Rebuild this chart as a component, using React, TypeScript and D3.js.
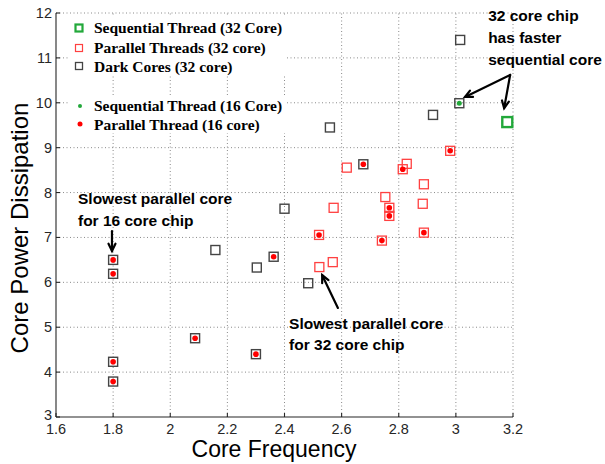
import React from "react";
import * as d3 from "d3";

// ---- data ----
const seq32: [number, number][] = [[3.18, 9.57]];
const par32: [number, number][] = [
  [2.521, 7.056], [2.741, 6.93], [2.767, 7.66], [2.767, 7.48], [2.814, 8.52],
  [2.888, 7.107], [2.98, 8.93], [2.618, 8.555], [2.828, 8.64], [2.888, 8.185],
  [2.753, 7.9], [2.884, 7.75], [2.572, 7.66], [2.522, 6.34], [2.569, 6.45],
];
const dark32: [number, number][] = [
  [1.8, 6.5], [1.8, 6.19], [1.8, 4.23], [1.8, 3.79], [2.087, 4.755], [2.3, 4.4],
  [2.362, 6.57], [2.676, 8.63], [3.012, 9.99], [3.015, 11.4], [2.92, 9.73],
  [2.559, 9.45], [2.4, 7.64], [2.158, 6.72], [2.303, 6.33], [2.483, 5.98],
];
const seq16: [number, number][] = [[3.012, 9.99]];
const par16: [number, number][] = [
  [1.8, 6.5], [1.8, 6.19], [1.8, 4.23], [1.8, 3.79], [2.087, 4.755], [2.3, 4.4],
  [2.362, 6.57], [2.521, 7.056], [2.676, 8.63], [2.741, 6.93], [2.767, 7.66],
  [2.767, 7.48], [2.814, 8.52], [2.888, 7.107], [2.98, 8.93],
];
const xTicks = [1.6, 1.8, 2, 2.2, 2.4, 2.6, 2.8, 3, 3.2];
const yTicks = [3, 4, 5, 6, 7, 8, 9, 10, 11, 12];
const legend32 = ["Sequential Thread (32 Core)", "Parallel Threads (32 core)", "Dark Cores (32 core)"];
const legend16 = ["Sequential Thread (16 Core)", "Parallel Thread (16 core)"];

const GREEN = "#22a83a";
const RED_SQ = "#ff4040";
const RED = "#ff0000";
const GRAY = "#444444";
const AXIS = "#262626";

export default function App() {
  const W = 605, H = 464;
  const left = 56, right = 513, top = 13, bottom = 417;
  const x = d3.scaleLinear().domain([1.6, 3.2]).range([left, right]);
  const y = d3.scaleLinear().domain([3, 12]).range([bottom, top]);
  const sq = 9;
  const tickFmt = d3.format("");

  const square = (d: [number, number], i: number, color: string, sw: number, s = sq) => (
    <rect key={i} x={x(d[0]) - s / 2} y={y(d[1]) - s / 2} width={s} height={s}
      fill="none" stroke={color} strokeWidth={sw} />
  );

  const arrow = (x1: number, y1: number, x2: number, y2: number, key: string) => {
    const px1 = x(x1), py1 = y(y1), px2 = x(x2), py2 = y(y2);
    const ang = Math.atan2(py2 - py1, px2 - px1);
    const L = 8, a = 0.45;
    const h1 = [px2 - L * Math.cos(ang - a), py2 - L * Math.sin(ang - a)];
    const h2 = [px2 - L * Math.cos(ang + a), py2 - L * Math.sin(ang + a)];
    return (
      <g key={key} stroke="#000" strokeWidth={2.2} fill="none" strokeLinecap="round">
        <line x1={px1} y1={py1} x2={px2} y2={py2} />
        <polyline points={`${h1[0]},${h1[1]} ${px2},${py2} ${h2[0]},${h2[1]}`} />
      </g>
    );
  };

  const annFont = { fontFamily: "'Liberation Sans', Arial, sans-serif", fontWeight: 700, fontSize: 15.5 } as const;

  return (
    <svg width={W} height={H} style={{ position: "absolute", left: 0, top: 0, background: "#fff" }}>
      <rect width={W} height={H} fill="#fff" />
      {/* grid */}
      <g stroke="#8a8a8a" strokeWidth={1} strokeDasharray="1,2.5">
        {xTicks.slice(1).map((t) => (
          <line key={"gx" + t} x1={x(t)} x2={x(t)} y1={bottom} y2={top} />
        ))}
        {yTicks.slice(1).map((t) => (
          <line key={"gy" + t} x1={left} x2={right} y1={y(t)} y2={y(t)} />
        ))}
      </g>
      {/* legends backgrounds */}
      <rect x={70} y={17} width={215} height={58} fill="#fff" />
      <rect x={70} y={96} width={215} height={37} fill="#fff" />
      {/* axes */}
      <g stroke={AXIS} strokeWidth={1.1}>
        <line x1={left} x2={right} y1={bottom} y2={bottom} />
        <line x1={left} x2={left} y1={bottom} y2={top} />
        {xTicks.map((t) => (
          <line key={"tx" + t} x1={x(t)} x2={x(t)} y1={bottom} y2={bottom - 4} />
        ))}
        {yTicks.map((t) => (
          <line key={"ty" + t} x1={left} x2={left + 4} y1={y(t)} y2={y(t)} />
        ))}
      </g>
      <g fontFamily="'Liberation Sans', Arial, sans-serif" fontSize={14.5} fill={AXIS}>
        {xTicks.map((t) => (
          <text key={"lx" + t} x={x(t)} y={434} textAnchor="middle">{tickFmt(t)}</text>
        ))}
        {yTicks.map((t) => (
          <text key={"ly" + t} x={52} y={y(t) + (t === 3 ? 3 : 5)} textAnchor="end">{tickFmt(t)}</text>
        ))}
      </g>
      <text x={274} y={457} textAnchor="middle" fontFamily="'Liberation Sans', Arial, sans-serif" fontSize={23} fill="#000">Core Frequency</text>
      <text transform={`translate(28,228) rotate(-90)`} textAnchor="middle" fontFamily="'Liberation Sans', Arial, sans-serif" fontSize={24} fill="#000">Core Power Dissipation</text>

      {/* marks */}
      <g>{dark32.map((d, i) => square(d, i, GRAY, 1.4))}</g>
      <g>{par32.map((d, i) => square(d, i, RED_SQ, 1.3))}</g>
      <g>{seq32.map((d, i) => square(d, i, GREEN, 2.4, 10))}</g>
      <g>{par16.map((d, i) => <circle key={i} cx={x(d[0])} cy={y(d[1])} r={2.8} fill={RED} />)}</g>
      <g>{seq16.map((d, i) => <circle key={i} cx={x(d[0])} cy={y(d[1])} r={2.5} fill={GREEN} />)}</g>

      {/* legend */}
      <g fontFamily="'Liberation Serif', 'Times New Roman', serif" fontWeight={700} fontSize={15.5} fill="#000">
        <rect x={75.5} y={24.5} width={7} height={7} fill="none" stroke={GREEN} strokeWidth={2.2} />
        <rect x={75.5} y={44.5} width={7} height={7} fill="none" stroke={RED_SQ} strokeWidth={1.2} />
        <rect x={75.5} y={62.5} width={7} height={7} fill="none" stroke={GRAY} strokeWidth={1.3} />
        <circle cx={80} cy={106} r={2} fill={GREEN} />
        <circle cx={80} cy={124} r={2.5} fill={RED} />
        {legend32.map((s, i) => (
          <text key={s} x={94} y={[33, 52.5, 71.5][i]}>{s}</text>
        ))}
        {legend16.map((s, i) => (
          <text key={s} x={94} y={[111, 129.5][i]}>{s}</text>
        ))}
      </g>

      {/* annotations */}
      <g {...annFont} fill="#000">
        <text x={x(1.677)} y={204}>Slowest parallel core</text>
        <text x={x(1.677)} y={226}>for 16 core chip</text>
        <text x={x(2.416)} y={329}>Slowest parallel core</text>
        <text x={x(2.416)} y={350}>for 32 core chip</text>
        <text x={x(3.113)} y={21}>32 core chip</text>
        <text x={x(3.113)} y={43}>has faster</text>
        <text x={x(3.113)} y={65}>sequential core</text>
      </g>
      {arrow(1.796, 7.14, 1.796, 6.7, "a1")}
      {arrow(2.587, 5.43, 2.532, 6.16, "a2")}
      {arrow(3.19, 10.62, 3.032, 10.13, "a3")}
      {arrow(3.19, 10.62, 3.169, 9.88, "a4")}
    </svg>
  );
}
